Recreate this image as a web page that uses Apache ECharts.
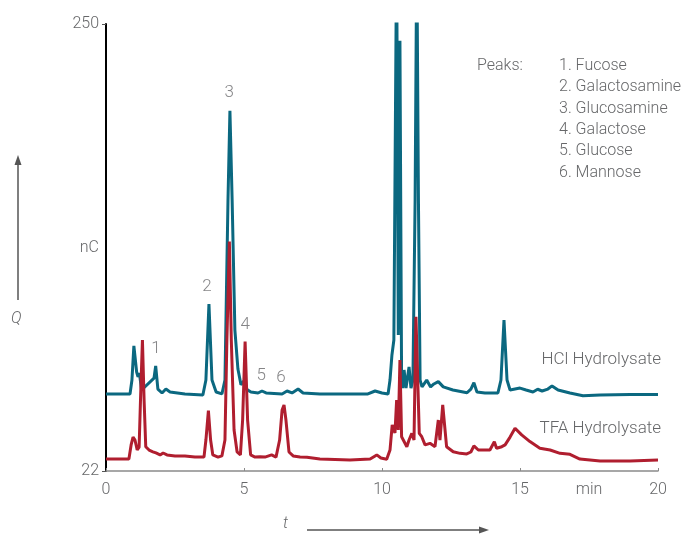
<!DOCTYPE html>
<html>
<head>
<meta charset="utf-8">
<script src="https://cdn.jsdelivr.net/npm/echarts@6/dist/echarts.min.js"></script>
<style>
  html, body { margin: 0; padding: 0; background: #fff; }
  #main { width: 691px; height: 535px; }
</style>
</head>
<body>
<div id="main"></div>
<script>
// HCl hydrolysate trace (time in min, charge in nC)
const hclTime = [0, 0.87, 0.94, 1.01, 1.11, 1.16, 1.21, 1.29, 1.74, 1.80, 1.88, 2.03, 2.17, 2.32, 2.86, 3.51, 3.62, 3.73, 3.84, 3.99,
  4.20, 4.31, 4.42, 4.49, 4.57, 4.67, 4.78, 4.89, 5.00, 5.11, 5.25, 5.51, 5.65, 5.80, 6.38, 6.56, 6.74, 6.96, 7.14, 7.75,
  8.84, 9.49, 9.75, 10.0, 10.22, 10.29, 10.36, 10.43, 10.53, 10.59, 10.65, 10.71, 10.75, 10.80, 10.87, 10.98, 11.05, 11.12, 11.20, 11.26,
  11.32, 11.38, 11.45, 11.62, 11.76, 11.88, 12.04, 12.22, 12.57, 13.08, 13.22, 13.33, 13.44, 13.73, 14.20, 14.31, 14.42, 14.53, 14.64, 14.82,
  15.0, 15.22, 15.47, 15.64, 15.80, 16.01, 16.16, 16.38, 16.81, 17.28, 17.90, 18.99, 20];
const hclSignal = [61.3, 61.3, 68.4, 85.8, 72.5, 70, 72, 63.3, 69.4, 75.6, 63.8, 61.8, 63.8, 62.3, 61.3, 60.8, 68.4, 107.2, 68.4, 62.3,
  61.3, 68.4, 160.3, 205.7, 160.3, 93.9, 74, 66, 68, 63.5, 62.3, 61.8, 62.8, 61.8, 61.3, 62.8, 61.8, 63.8, 61.8, 61.3,
  61.3, 61.3, 62.8, 61.8, 61.3, 68.4, 81.2, 88.8, 290, 91.4, 241.4, 68.4, 64.3, 73.5, 64.3, 75.1, 64.3, 68.4, 160.3, 290,
  160.3, 68.4, 64.9, 68.4, 64.9, 66.4, 67.6, 64.9, 63.3, 61.9, 63.8, 67, 62.3, 61.8, 61.8, 68.4, 99, 68.4, 63.3, 63.8,
  64.3, 63.3, 62.3, 63.7, 62.8, 63.8, 65.4, 63.3, 61.8, 60.4, 60.8, 61, 61];

// TFA hydrolysate trace
const tfaTime = [0, 0.83, 0.91, 0.98, 1.05, 1.13, 1.20, 1.25, 1.32, 1.38, 1.44, 1.56, 1.70, 1.81, 1.88, 1.96, 2.07, 2.21, 2.50, 2.86,
  3.22, 3.55, 3.62, 3.71, 3.79, 3.87, 4.06, 4.20, 4.31, 4.38, 4.47, 4.54, 4.64, 4.75, 4.87, 4.95, 5.04, 5.13, 5.24, 5.40,
  5.58, 5.76, 6.0, 6.16, 6.29, 6.38, 6.45, 6.52, 6.63, 6.78, 7.03, 7.28, 7.75, 8.84, 9.57, 9.81, 9.96, 10.17, 10.29, 10.37,
  10.47, 10.53, 10.59, 10.65, 10.71, 10.77, 10.90, 10.98, 11.08, 11.16, 11.23, 11.35, 11.44, 11.56, 11.74, 11.92, 12.04, 12.10, 12.20, 12.34,
  12.58, 12.83, 13.07, 13.22, 13.33, 13.49, 13.91, 14.07, 14.15, 14.34, 14.46, 14.64, 14.82, 15.06, 15.36, 15.72, 16.09, 16.45, 16.81, 17.17,
  17.90, 18.99, 20];
const tfaSignal = [28.1, 28.1, 35.3, 39.3, 37.8, 32.7, 34.2, 58.2, 88.8, 58.2, 34.4, 32.7, 31.8, 31.2, 32.2, 30.2, 31.2, 30.2, 29.7, 29.7,
  29.1, 29.1, 37.8, 52.8, 37.8, 30.2, 29.1, 29.7, 37.8, 88.8, 139, 88.8, 42.9, 31.7, 30.2, 48, 88, 48, 30.2, 29.1,
  29.3, 29.1, 30.2, 29.1, 37.8, 53.1, 55.7, 48, 31.7, 29.7, 29.1, 29, 28.1, 27.6, 28.1, 30.2, 28.6, 28, 32.7, 45.5,
  41.4, 58.2, 42.9, 78.6, 39.5, 40.4, 34.4, 37.8, 41.2, 37.8, 100.7, 41.2, 39.5, 35.3, 36.1, 34.4, 48, 37.8, 55.7, 34.4,
  31.8, 31, 30.7, 31.7, 34.8, 32.7, 32.7, 36.9, 33.6, 34.4, 35.3, 39.3, 43.8, 40.4, 37, 33.6, 32.7, 31, 30.5, 28.1,
  27.1, 27.1, 27.6];

// peak numbers and where their labels sit
const peakNums = ['1', '2', '3', '4', '5', '6'];
const peakTimes = [1.81, 3.66, 4.46, 5.04, 5.62, 6.34];
const peakLabelY = [84.2, 115.9, 214.9, 96.5, 70.5, 69.4];
const peakNames = ['1. Fucose', '2. Galactosamine', '3. Glucosamine', '4. Galactose', '5. Glucose', '6. Mannose'];

const yTicks = [22, 136, 250];
const xTicks = [0, 5, 10, 15, 20];

const TEXT = '#666769';
const FONT = 'Roboto';

const chart = echarts.init(document.getElementById('main'));

const zip = (a, b) => a.map((v, i) => [v, b[i]]);

const legendTexts = peakNames.map((n, i) => ({
  type: 'text', left: 559, top: 58 + i * 21.3,
  style: { text: n, fill: TEXT, font: '300 16px ' + FONT }
}));

const option = {
  animation: false,
  grid: { left: 106, right: 33, top: 24, bottom: 64 },
  xAxis: {
    type: 'value', min: 0, max: 20, interval: 2.5,
    axisLine: { lineStyle: { color: '#8a8a8a', width: 1.5 } },
    axisTick: { show: true, inside: true, length: 3, customValues: xTicks, lineStyle: { color: '#8a8a8a' } },
    axisLabel: {
      color: TEXT, fontSize: 16, fontFamily: FONT, fontWeight: 300, margin: 11,
      formatter: v => (v === 17.5 ? 'min' : (v % 5 === 0 ? String(v) : ''))
    },
    splitLine: { show: false }
  },
  yAxis: {
    type: 'value', min: 22, max: 250,
    axisLine: { show: true, lineStyle: { color: '#000', width: 2 } },
    axisTick: { show: true, length: 4, customValues: [22, 250], lineStyle: { color: '#555' } },
    axisLabel: {
      color: TEXT, fontSize: 16, fontFamily: FONT, fontWeight: 300, margin: 7,
      customValues: yTicks,
      formatter: v => (v === 136 ? 'nC' : String(v))
    },
    splitLine: { show: false }
  },
  series: [
    {
      name: 'HCl Hydrolysate', type: 'line', data: zip(hclTime, hclSignal),
      showSymbol: false, clip: true, z: 2,
      lineStyle: { color: '#0b6880', width: 3 }
    },
    {
      name: 'TFA Hydrolysate', type: 'line', data: zip(tfaTime, tfaSignal),
      showSymbol: false, clip: true, z: 3,
      lineStyle: { color: '#b01e2f', width: 3 }
    },
    {
      type: 'scatter', symbolSize: 0, z: 4,
      data: peakTimes.map((t, i) => ({ value: [t, peakLabelY[i]], name: peakNums[i] })),
      label: {
        show: true, position: 'inside', formatter: p => p.name,
        color: TEXT, fontSize: 17, fontFamily: FONT, fontWeight: 300
      }
    }
  ],
  graphic: [
    { type: 'text', left: 477, top: 58, style: { text: 'Peaks:', fill: TEXT, font: '300 16px ' + FONT } },
    ...legendTexts,
    { type: 'text', right: 30, top: 351, style: { text: 'HCl Hydrolysate', fill: TEXT, font: '300 17px ' + FONT } },
    { type: 'text', right: 30, top: 420, style: { text: 'TFA Hydrolysate', fill: TEXT, font: '300 17px ' + FONT } },
    // Q arrow
    { type: 'line', shape: { x1: 18, y1: 300, x2: 18, y2: 162 }, style: { stroke: '#555', lineWidth: 1.5 } },
    { type: 'polygon', shape: { points: [[18, 155], [14.5, 165], [21.5, 165]] }, style: { fill: '#555' } },
    { type: 'text', left: 11, top: 311, style: { text: 'Q', fill: TEXT, font: 'italic 300 16px ' + FONT } },
    // t arrow
    { type: 'text', left: 283, top: 516, style: { text: 't', fill: TEXT, font: 'italic 300 16px ' + FONT } },
    { type: 'line', shape: { x1: 307, y1: 530, x2: 482, y2: 530 }, style: { stroke: '#555', lineWidth: 1.5 } },
    { type: 'polygon', shape: { points: [[489, 530], [479, 526.5], [479, 533.5]] }, style: { fill: '#555' } }
  ]
};

chart.setOption(option);
</script>
</body>
</html>
